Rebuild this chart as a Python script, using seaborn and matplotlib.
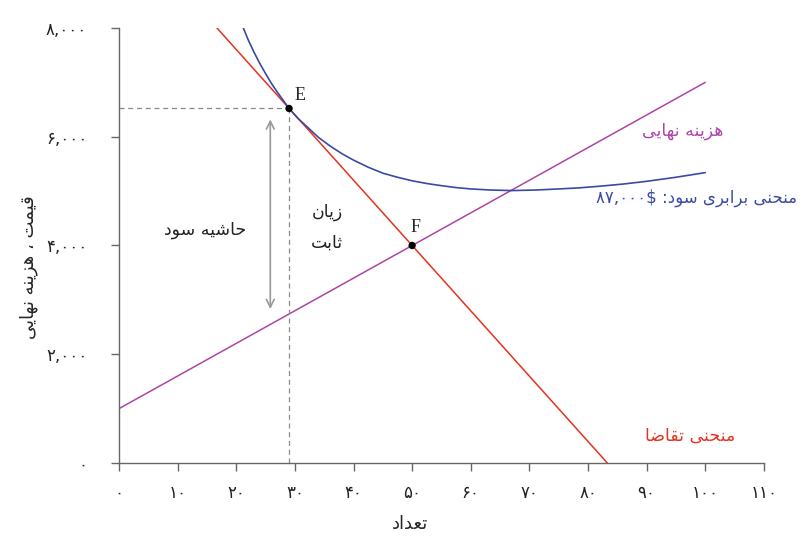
import numpy as np
import pandas as pd
import matplotlib
matplotlib.use("Agg")
import matplotlib.pyplot as plt
import seaborn as sns

# values
demand_q = [16.7, 83.3]
demand_p = [8000, 0]
mc_q = [0, 100]
mc_p = [1000, 7000]
iso_q = [21.2, 22, 23, 24, 25, 26, 27, 28, 29, 30.5, 32, 34, 36, 38, 40, 42.5, 45, 47.5,
         50, 52.5, 55, 57.5, 60, 63.5, 67, 71, 75, 78.5, 82, 86, 90, 95, 100]
iso_p = [8000, 7790, 7560, 7350, 7160, 6980, 6820, 6670, 6520, 6340, 6190, 5990, 5830, 5690,
         5570, 5440, 5330, 5255, 5190, 5140, 5100, 5065, 5040, 5020, 5010, 5020, 5040, 5060,
         5090, 5130, 5180, 5255, 5340]
pts_q = [29, 50]
pts_p = [6520, 4000]
pts_name = ["E", "F"]
x_ticks = [0, 10, 20, 30, 40, 50, 60, 70, 80, 90, 100, 110]
y_ticks = [0, 2000, 4000, 6000, 8000]

RED = "#e5331f"
PURPLE = "#ad45a9"
BLUE = "#3a4aa3"
GREY = "#8a8a8a"

# matplotlib has no arabic shaping, so pick presentation forms by hand
# (isolated, final, initial, medial)
FORMS = {
    "ا": ("\uFE8D", "\uFE8E", None, None),
    "ب": ("\uFE8F", "\uFE90", "\uFE91", "\uFE92"),
    "ت": ("\uFE95", "\uFE96", "\uFE97", "\uFE98"),
    "ث": ("\uFE99", "\uFE9A", "\uFE9B", "\uFE9C"),
    "ح": ("\uFEA1", "\uFEA2", "\uFEA3", "\uFEA4"),
    "د": ("\uFEA9", "\uFEAA", None, None),
    "ر": ("\uFEAD", "\uFEAE", None, None),
    "ز": ("\uFEAF", "\uFEB0", None, None),
    "س": ("\uFEB1", "\uFEB2", "\uFEB3", "\uFEB4"),
    "ش": ("\uFEB5", "\uFEB6", "\uFEB7", "\uFEB8"),
    "ض": ("\uFEBD", "\uFEBE", "\uFEBF", "\uFEC0"),
    "ع": ("\uFEC9", "\uFECA", "\uFECB", "\uFECC"),
    "ق": ("\uFED5", "\uFED6", "\uFED7", "\uFED8"),
    "م": ("\uFEE1", "\uFEE2", "\uFEE3", "\uFEE4"),
    "ن": ("\uFEE5", "\uFEE6", "\uFEE7", "\uFEE8"),
    "ه": ("\uFEE9", "\uFEEA", "\uFEEB", "\uFEEC"),
    "و": ("\uFEED", "\uFEEE", None, None),
    "ی": ("\uFBFC", "\uFBFD", "\uFBFE", "\uFBFF"),
}


def fa(s):
    out = []
    for i, c in enumerate(s):
        if c not in FORMS:
            out.append(c)
            continue
        prev = s[i - 1] if i > 0 else ""
        nxt = s[i + 1] if i + 1 < len(s) else ""
        p = prev in FORMS and FORMS[prev][2] is not None
        n = nxt in FORMS and FORMS[c][2] is not None
        iso, fin, ini, med = FORMS[c]
        if p and n:
            out.append(med)
        elif p:
            out.append(fin)
        elif n:
            out.append(ini)
        else:
            out.append(iso)
    return "".join(out)[::-1]


PDIG = str.maketrans("0123456789", "۰۱۲۳۴۵۶۷۸۹")


def pnum(v):
    return f"{v:,}".translate(PDIG)


sns.set_style("ticks")
plt.rcParams["font.family"] = ["DejaVu Sans"]

fig = plt.figure(figsize=(8.1, 5.47), dpi=100)
ax = fig.add_axes([0.147, 0.1536, 0.796, 0.7952])

sns.lineplot(x=mc_q, y=mc_p, color=PURPLE, lw=1.1, ax=ax)
sns.lineplot(x=demand_q, y=demand_p, color=RED, lw=1.1, ax=ax)
sns.lineplot(x=iso_q, y=iso_p, color=BLUE, lw=1.2, sort=False, estimator=None, ax=ax)

# dashed guides to E
ax.plot([0, pts_q[0]], [pts_p[0], pts_p[0]], ls=(0, (4, 3)), color=GREY, lw=0.9)
ax.plot([pts_q[0], pts_q[0]], [0, pts_p[0]], ls=(0, (4, 3)), color=GREY, lw=0.9)

sns.scatterplot(x=pts_q, y=pts_p, color="black", s=28, zorder=5, edgecolor="none", ax=ax)
ax.text(pts_q[0] + 1.9, pts_p[0] + 80, pts_name[0], family="Liberation Serif", fontsize=13,
        ha="center", va="bottom")
ax.text(pts_q[1] + 0.6, pts_p[1] + 180, pts_name[1], family="Liberation Serif", fontsize=13,
        ha="center", va="bottom")

# profit margin arrow
ax.annotate("", xy=(25.8, 6370), xytext=(25.8, 2780),
            arrowprops=dict(arrowstyle="<->", color="#999999", lw=1.2, mutation_scale=14))

ax.text(96.2, 6106, fa("هزینه نهایی"), color=PURPLE, fontsize=12.5, ha="center", va="center")
ax.text(115.6, 4874, "۸۷,۰۰۰$ :" + fa("منحنی برابری سود"), color=BLUE, fontsize=12,
        ha="right", va="center", clip_on=False)
ax.text(97.4, 497, fa("منحنی تقاضا"), color=RED, fontsize=12.5, ha="center", va="center")
ax.text(14.7, 4285, fa("حاشیه سود"), color="#222222", fontsize=12.5, ha="center", va="center")
ax.text(35.5, 4616, fa("زیان"), color="#222222", fontsize=12.5, ha="center", va="center")
ax.text(35.5, 4046, fa("ثابت"), color="#222222", fontsize=12.5, ha="center", va="center")

ax.set_xlim(0, 110)
ax.set_ylim(0, 8000)
ax.set_xticks(x_ticks)
ax.set_xticklabels([pnum(v) for v in x_ticks])
ax.set_yticks(y_ticks)
ax.set_yticklabels([pnum(v) for v in y_ticks])
ax.tick_params(axis="both", colors="#666666", labelcolor="#222222", length=6, width=1, labelsize=12)
ax.tick_params(axis="x", pad=9)
ax.tick_params(axis="y", pad=17)
sns.despine(ax=ax)
for s in ["left", "bottom"]:
    ax.spines[s].set_color("#666666")
    ax.spines[s].set_linewidth(1.0)

ax.set_xlabel(fa("تعداد"), fontsize=13)
ax.set_ylabel(fa("قیمت ، هزینه نهایی"), fontsize=13)
ax.xaxis.set_label_coords(0.451, -0.12)
ax.yaxis.set_label_coords(-0.125, 0.45)

fig.savefig("out.png", dpi=100)
